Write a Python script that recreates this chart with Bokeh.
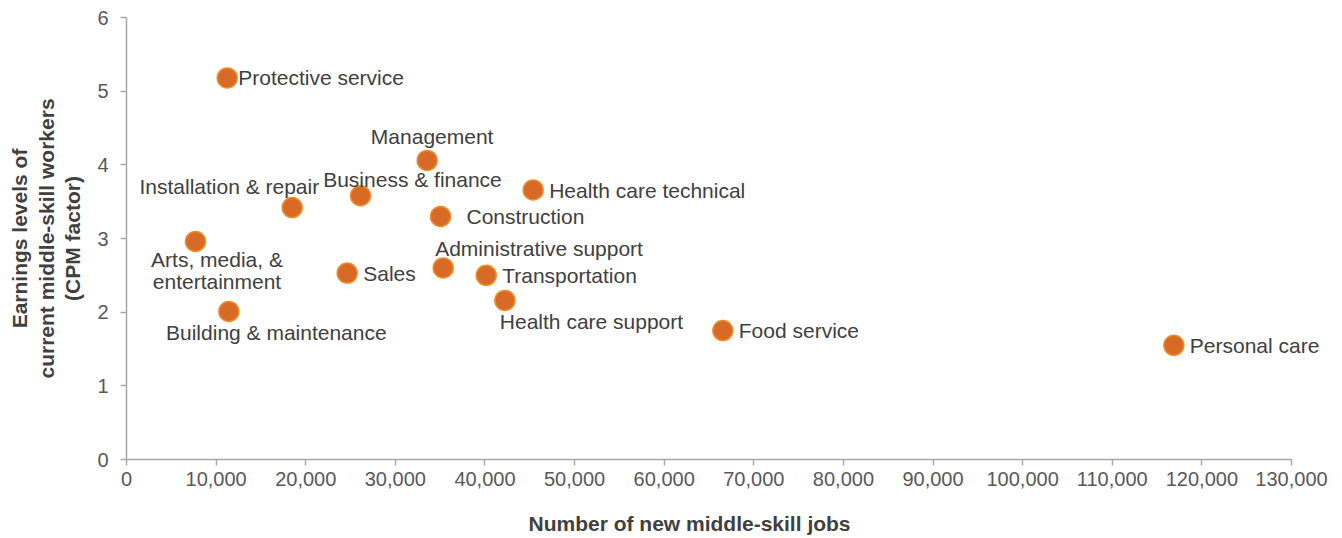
from bokeh.plotting import figure
from bokeh.models import (ColumnDataSource, NumeralTickFormatter, FixedTicker, Range1d,
                          LabelSet, Title)
from bokeh.core.properties import value
from bokeh.embed import file_html
from bokeh.resources import INLINE

# ---- data ----
occupations = [
    "Protective service", "Management", "Business & finance", "Installation & repair",
    "Health care technical", "Construction", "Arts, media, &\nentertainment", "Sales",
    "Administrative support", "Transportation", "Health care support",
    "Building & maintenance", "Food service", "Personal care",
]
new_jobs = [11240, 33550, 26110, 18490, 45380, 35040, 7700, 24630,
            35340, 40140, 42220, 11420, 66540, 116870]
earnings = [5.18, 4.06, 3.58, 3.42, 3.66, 3.30, 2.96, 2.53,
            2.60, 2.50, 2.16, 2.01, 1.75, 1.55]
x_ticks = list(range(0, 130001, 10000))
y_ticks = [0, 1, 2, 3, 4, 5, 6]
X_MAX = 130000
Y_MAX = 6

# ---- label placement (style, screen pixels; dy positive = downwards) ----
label_place = {
    "Protective service": ("left", 11, 0),
    "Management": ("center", 5, -24),
    "Business & finance": ("center", 52, -16),
    "Installation & repair": ("right", 27, -21),
    "Health care technical": ("left", 16, 1),
    "Construction": ("left", 26, 0),
    "Arts, media, &\nentertainment": ("center", 21.5, 29),
    "Sales": ("left", 16, 0.5),
    "Administrative support": ("left", -8, -19),
    "Transportation": ("left", 16, 0.5),
    "Health care support": ("left", -5, 21),
    "Building & maintenance": ("center", 47.5, 21.5),
    "Food service": ("left", 16, 0),
    "Personal care": ("left", 16, 0),
}
LINE_GAP = 22.5

lx, ly, ltext, lalign, ldx, ldy = [], [], [], [], [], []
for name, xv, yv in zip(occupations, new_jobs, earnings):
    align, dx, dy = label_place[name]
    lines = name.split("\n")
    n = len(lines)
    for k, line in enumerate(lines):
        lx.append(xv)
        ly.append(yv)
        ltext.append(line)
        lalign.append(align)
        ldx.append(dx)
        ldy.append(-(dy + (k - (n - 1) / 2) * LINE_GAP))

pts = ColumnDataSource(dict(x=new_jobs, y=earnings, name=occupations))
lab = ColumnDataSource(dict(x=lx, y=ly, text=ltext, align=lalign, dx=ldx, dy=ldy))

FONT = "Liberation Sans"
TEXT = "#404040"
AXIS = "#A6A6A6"

# frame: x 126..1337 px, axis drawn only up to 130,000 (at 1291 px)
FRAME_L, FRAME_R, AXIS_R = 126, 1337, 1291
x_end = X_MAX * (FRAME_R - FRAME_L) / (AXIS_R - FRAME_L)

p = figure(width=1342, height=538, output_backend="svg", toolbar_location=None,
           x_range=Range1d(0, x_end), y_range=Range1d(0, Y_MAX),
           min_border_left=FRAME_L, min_border_right=1342 - FRAME_R,
           min_border_top=17, min_border_bottom=79)
p.outline_line_color = None
p.grid.visible = False
p.background_fill_color = "white"
p.border_fill_color = "white"

p.scatter(x="x", y="y", source=pts, size=20, fill_color="#D66A26",
          line_color="#F08C2C", line_width=1.5)

labels = LabelSet(x="x", y="y", text="text", source=lab, x_offset="dx", y_offset="dy",
                  text_align="align", text_baseline="middle", text_font=value(FONT),
                  text_font_size="21px", text_color=TEXT)
p.add_layout(labels)

for ax in (p.xaxis[0], p.yaxis[0]):
    ax.axis_line_color = AXIS
    ax.axis_line_width = 1.5
    ax.major_tick_line_color = AXIS
    ax.major_tick_line_width = 1.5
    ax.major_tick_out = 6
    ax.major_tick_in = 0
    ax.minor_tick_out = 0
    ax.minor_tick_in = 0
    ax.major_label_text_font = FONT
    ax.major_label_text_font_size = "20px"
    ax.major_label_text_color = "#595959"
    ax.axis_label_text_font = FONT
    ax.axis_label_text_font_size = "21px"
    ax.axis_label_text_font_style = "bold"
    ax.axis_label_text_color = TEXT

p.xaxis.ticker = FixedTicker(ticks=x_ticks)
p.xaxis.bounds = (0, X_MAX)
p.xaxis.formatter = NumeralTickFormatter(format="0,0")
p.xaxis.major_label_standoff = 6
# small blank spacer below the tick labels
p.xaxis.axis_label = " "
p.xaxis.axis_label_text_font_size = "10px"
p.xaxis.axis_label_standoff = 9

xtitle = Title(text="Number of new middle-skill jobs", align="left", offset=402,
               vertical_align="top", text_font=FONT, text_font_size="21px",
               text_font_style="bold", text_color=TEXT, standoff=0)
p.add_layout(xtitle, "below")

p.yaxis.ticker = FixedTicker(ticks=y_ticks)
p.yaxis.major_label_standoff = 12
p.yaxis.axis_label = "Earnings levels of\ncurrent middle-skill workers\n(CPM factor)"
p.yaxis.axis_label_standoff = 10
p.yaxis.axis_label_text_line_height = 1.15

open("out.html", "w").write(file_html(p, INLINE))
